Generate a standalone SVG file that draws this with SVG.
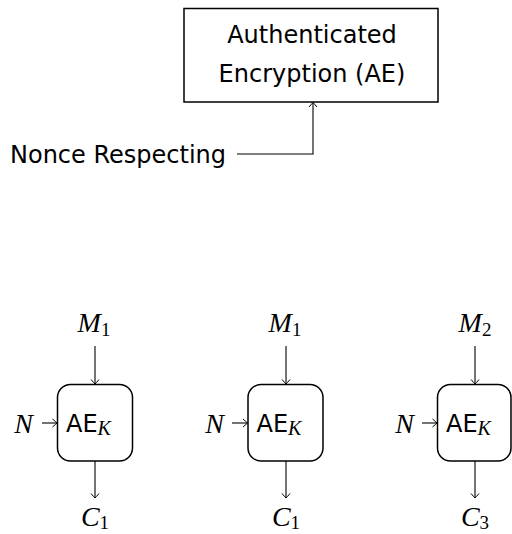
<svg xmlns="http://www.w3.org/2000/svg" width="512" height="534" viewBox="0 0 512 534">
<defs>
<style>
.sans{font-family:"DejaVu Sans",sans-serif;font-size:24px;fill:#000}
.math{font-family:"Liberation Serif","DejaVu Serif",serif;font-style:italic;font-size:28px;fill:#000}
.sub{font-family:"Liberation Serif","DejaVu Serif",serif;font-style:italic;font-size:20px}
.subn{font-style:normal;font-size:19px}
.box{fill:#fff;stroke:#000;stroke-width:1.5}
.conn{fill:none;stroke:#000;stroke-width:1.1}
</style>
<marker id="arr" viewBox="-6 -5 7 10" refX="0" refY="0" markerWidth="7" markerHeight="10" markerUnits="userSpaceOnUse" orient="auto" overflow="visible">
<path d="M-4.5,-4 Q-1,-1 0,0 Q-1,1 -4.5,4" fill="none" stroke="#000" stroke-width="1"/>
</marker>
</defs>
<rect width="512" height="534" fill="#fff"/>

<g id="ae-box">
<rect class="box" x="184" y="8.5" width="254" height="93.5"/>
<text class="sans" x="312" y="43" text-anchor="middle">Authenticated</text>
<text class="sans" x="312" y="82" text-anchor="middle">Encryption (AE)</text>
</g>

<g id="nonce-label">
<text class="sans" x="10" y="163">Nonce Respecting</text>
</g>

<g id="ae1">
<rect class="box" x="57.5" y="384.5" width="75" height="76.5" rx="13"/>
<text class="sans" x="66" y="432">AE<tspan class="sub" dy="3">K</tspan></text>
</g>
<g id="ae2">
<rect class="box" x="248" y="384.5" width="75" height="76.5" rx="13"/>
<text class="sans" x="256.5" y="432">AE<tspan class="sub" dy="3">K</tspan></text>
</g>
<g id="ae3">
<rect class="box" x="437.5" y="384.5" width="73.5" height="76.5" rx="13"/>
<text class="sans" x="446" y="432">AE<tspan class="sub" dy="3">K</tspan></text>
</g>

<g id="labels">
<text class="math" x="94" y="332" text-anchor="middle">M<tspan class="subn" dy="4">1</tspan></text>
<text class="math" x="285" y="332" text-anchor="middle">M<tspan class="subn" dy="4">1</tspan></text>
<text class="math" x="475" y="332" text-anchor="middle">M<tspan class="subn" dy="4">2</tspan></text>
<text class="math" x="33" y="433" text-anchor="end">N</text>
<text class="math" x="224" y="433" text-anchor="end">N</text>
<text class="math" x="414" y="433" text-anchor="end">N</text>
<text class="math" x="95" y="526" text-anchor="middle">C<tspan class="subn" dy="3">1</tspan></text>
<text class="math" x="286" y="526" text-anchor="middle">C<tspan class="subn" dy="3">1</tspan></text>
<text class="math" x="475" y="526" text-anchor="middle">C<tspan class="subn" dy="3">3</tspan></text>
</g>

<g id="connectors">
<path class="conn" d="M237,154 H313 V102.5" marker-end="url(#arr)"/>
<path class="conn" d="M95,346 V384" marker-end="url(#arr)"/>
<path class="conn" d="M286,346 V384" marker-end="url(#arr)"/>
<path class="conn" d="M475,346 V384" marker-end="url(#arr)"/>
<path class="conn" d="M42,423 H57" marker-end="url(#arr)"/>
<path class="conn" d="M232,423 H247.5" marker-end="url(#arr)"/>
<path class="conn" d="M422,423 H437" marker-end="url(#arr)"/>
<path class="conn" d="M95,461 V498" marker-end="url(#arr)"/>
<path class="conn" d="M286,461 V498" marker-end="url(#arr)"/>
<path class="conn" d="M475,461 V498" marker-end="url(#arr)"/>
</g>
</svg>
